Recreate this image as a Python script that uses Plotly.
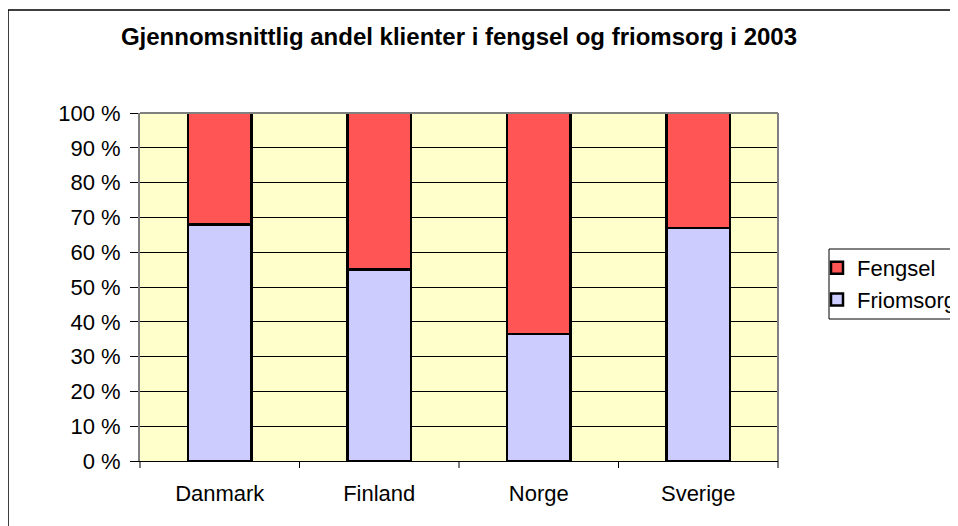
import plotly.graph_objects as go

categories = ["Danmark", "Finland", "Norge", "Sverige"]
friomsorg = [68.0, 55.0, 36.5, 67.0]
fengsel = [32.0, 45.0, 63.5, 33.0]
title = "Gjennomsnittlig andel klienter i fengsel og friomsorg i 2003"

OFF = 8  # browser body margin
W, H = 958 - OFF, 526 - OFF
L, R, T, B = 140 - OFF, 778 - OFF, 113 - OFF, 461 - OFF
pw, ph = R - L, B - T

def px(x):
    return (x - OFF - L) / pw

def py(y):
    return (B - (y - OFF)) / ph

font = "Liberation Sans, Arial, sans-serif"

fig = go.Figure()
fig.add_trace(go.Bar(x=categories, y=friomsorg, name="Friomsorg",
                     marker=dict(color="#CCCCFF", line=dict(color="black", width=2.5)),
                     width=0.4))
fig.add_trace(go.Bar(x=categories, y=fengsel, name="Fengsel",
                     marker=dict(color="#FF5555", line=dict(color="black", width=2.5)),
                     width=0.4))

fig.update_layout(
    width=W, height=H,
    margin=dict(l=L, r=W - R, t=T, b=H - B, pad=0, autoexpand=False),
    barmode="stack",
    paper_bgcolor="white",
    plot_bgcolor="#FFFFCC",
    font=dict(family=font, size=22, color="black"),
    title=dict(text="<b>" + title + "</b>", x=(459 - OFF) / W, xanchor="center",
               y=1 - (37 - OFF) / H, yanchor="middle", font=dict(size=24, family=font)),
    legend=dict(x=px(817), y=py(247), xanchor="left", yanchor="top",
                traceorder="reversed", borderwidth=0,
                bgcolor="rgba(0,0,0,0)", font=dict(size=22, family=font),
                itemwidth=30, tracegroupgap=0),
    showlegend=True,
    xaxis=dict(showline=True, linecolor="black", linewidth=1, mirror=False,
               ticks="", tickfont=dict(size=22), ticklabelstandoff=13),
    yaxis=dict(range=[0, 100], dtick=10, ticksuffix=" %", showgrid=True,
               gridcolor="black", gridwidth=1, showline=True, linecolor="#808080",
               linewidth=2, ticks="outside", ticklen=8, tickcolor="black",
               tickfont=dict(size=22), zeroline=False, ticklabelstandoff=5),
    shapes=[
        dict(type="line", xref="paper", yref="paper", x0=0, x1=1, y0=1, y1=1,
             line=dict(color="#808080", width=2)),
        dict(type="line", xref="paper", yref="paper", x0=1, x1=1, y0=0, y1=1,
             line=dict(color="#808080", width=2)),
        # outer chart border
        dict(type="rect", xref="paper", yref="paper",
             x0=px(8), x1=px(980), y0=py(545), y1=py(10),
             line=dict(color="black", width=1.5), fillcolor="rgba(0,0,0,0)", layer="below"),
        # legend border
        dict(type="rect", xref="paper", yref="paper",
             x0=px(829), x1=px(990), y0=py(319), y1=py(249),
             line=dict(color="black", width=1), fillcolor="white", layer="below"),
    ],
)

for i in range(len(categories) + 1):
    fig.add_shape(type="line", xref="paper", yref="paper",
                  x0=i / len(categories), x1=i / len(categories),
                  y0=0, y1=-7 / ph, line=dict(color="black", width=1))

fig.write_html("out.html")
